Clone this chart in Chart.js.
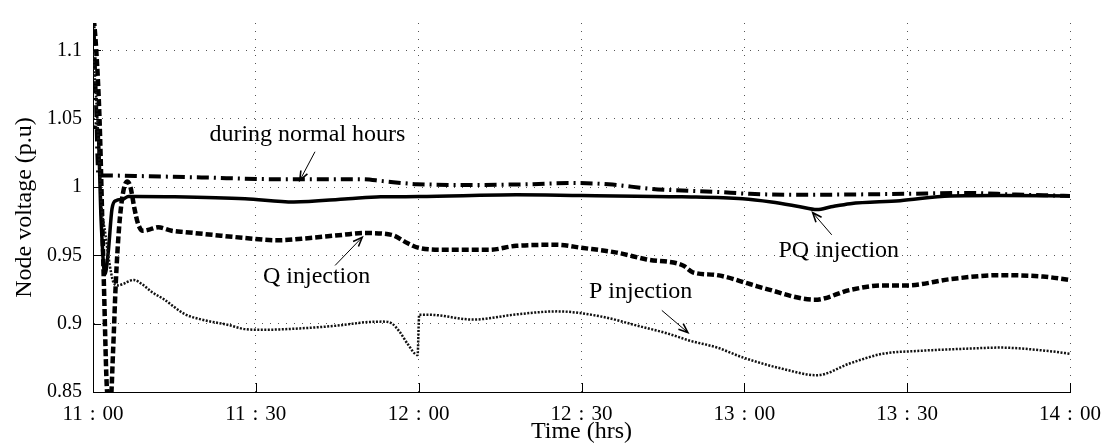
<!DOCTYPE html>
<html>
<head>
<meta charset="utf-8">
<title>Node voltage</title>
<script src="https://cdn.jsdelivr.net/npm/chart.js@4/dist/chart.umd.min.js"></script>
<style>
  html, body { margin: 0; padding: 0; background: #fff; }
  canvas { display: block; }
</style>
</head>
<body>
<canvas id="myChart" width="1105" height="447"></canvas>
<script>
// time is in minutes after 11:00
var normalT = [0, 0.5, 1.0, 1.5, 10, 20, 34, 49.7, 53.4, 59.7, 70, 80, 88, 95, 103, 115, 121, 130, 150, 161, 170, 180];
var normalV = [1.13, 1.07, 1.009, 1.0085, 1.0079, 1.007, 1.0057, 1.0057, 1.0043, 1.0021, 1.0015, 1.002, 1.0029, 1.002, 0.9986, 0.9964, 0.995, 0.9943, 0.995, 0.9957, 0.9945, 0.9935];

var pqT = [0, 0.9, 1.5, 2.2, 2.8, 3.5, 4.2, 5.5, 6.5, 8, 15, 28, 37, 47, 53, 60, 78, 90, 108.5, 119.7, 125, 130, 133.4, 136, 139.5, 148.7, 157.9, 167, 180];
var pqV = [1.044, 1.042, 0.975, 0.936, 0.952, 0.984, 0.990, 0.991, 0.993, 0.993, 0.9928, 0.9914, 0.989, 0.9914, 0.9928, 0.993, 0.9943, 0.9937, 0.9928, 0.9914, 0.989, 0.9858, 0.9835, 0.9855, 0.9878, 0.990, 0.9935, 0.9938, 0.9935];

var qT = [0, 0.6, 1.2, 2.0, 2.6, 3.2, 3.7, 4.2, 4.8, 5.5, 6.3, 6.9, 7.6, 8.3, 9.2, 10.5, 12, 14.5, 17, 22, 28, 34, 40, 46, 50, 55, 57.9, 60, 65, 73, 78, 85.5, 90, 96.5, 102, 108.7, 110.5, 115, 121, 124, 133, 139.5, 145.5, 150, 158, 167, 175, 180];
var qV = [1.13, 1.1, 1.05, 0.93, 0.85, 0.84, 0.88, 0.93, 0.97, 0.995, 1.004, 1.0, 0.985, 0.973, 0.968, 0.969, 0.9705, 0.968, 0.967, 0.965, 0.9627, 0.961, 0.9627, 0.965, 0.9663, 0.965, 0.959, 0.9555, 0.954, 0.954, 0.957, 0.9577, 0.9555, 0.952, 0.947, 0.9426, 0.9376, 0.9355, 0.929, 0.9255, 0.9175, 0.9247, 0.928, 0.928, 0.9326, 0.9355, 0.9345, 0.932];

var pT = [0, 0.8, 1.5, 2.3, 3.0, 3.8, 4.6, 5.5, 7.5, 9, 10.9, 13, 16.9, 20, 25, 28, 31, 40, 46, 50, 53.4, 55, 56.5, 58, 59.8, 60.1, 62, 70, 78, 85.5, 93.4, 100.8, 105.7, 110, 115, 119.7, 127, 133.4, 139.5, 145.5, 151.8, 161, 167, 176, 180];
var pV = [1.1, 1.05, 0.99, 0.965, 0.945, 0.93, 0.928, 0.929, 0.932, 0.929, 0.923, 0.918, 0.907, 0.903, 0.899, 0.896, 0.8955, 0.897, 0.899, 0.901, 0.9015, 0.9003, 0.894, 0.885, 0.877, 0.9065, 0.9065, 0.903, 0.9068, 0.909, 0.9054, 0.898, 0.893, 0.8875, 0.8825, 0.8753, 0.867, 0.8623, 0.871, 0.878, 0.880, 0.8817, 0.8825, 0.880, 0.878];

var xTicks = [0, 30, 60, 90, 120, 150, 180];
var xTickLabels = ["11\u2004:\u200400", "11\u2004:\u200430", "12\u2004:\u200400", "12\u2004:\u200430", "13\u2004:\u200400", "13\u2004:\u200430", "14\u2004:\u200400"];
var yTicks = [0.85, 0.9, 0.95, 1, 1.05, 1.1];
var yTickLabels = ["0.85", "0.9", "0.95", "1", "1.05", "1.1"];

// text callouts: label centre, arrow tail and arrow tip (minutes, p.u.)
var notes = [
  { text: "during normal hours", at: [39.5, 1.038], from: [40.9, 1.0258], to: [38.1, 1.0048] },
  { text: "Q injection", at: [41.2, 0.9345], from: [44.6, 0.9426], to: [49.6, 0.9632] },
  { text: "P injection", at: [100.9, 0.9235], from: [104.8, 0.9097], to: [109.6, 0.8935] },
  { text: "PQ injection", at: [137.4, 0.9535], from: [136.1, 0.965], to: [132.6, 0.9812] }
];

var FONT = '"Liberation Serif", "Times New Roman", serif';

function pts(t, v) {
  return t.map(function (x, i) { return { x: x, y: v[i] }; });
}

var calloutPlugin = {
  id: "callouts",
  afterDatasetsDraw: function (chart) {
    var ctx = chart.ctx, xs = chart.scales.x, ys = chart.scales.y, area = chart.chartArea;
    ctx.save();

    // inward tick marks on both axes
    ctx.strokeStyle = "#000";
    ctx.lineWidth = 1;
    ctx.beginPath();
    xTicks.forEach(function (t) {
      var px = Math.round(xs.getPixelForValue(t)) + 0.5;
      ctx.moveTo(px, area.bottom);
      ctx.lineTo(px, area.bottom - 9);
    });
    yTicks.forEach(function (v) {
      var py = Math.round(ys.getPixelForValue(v)) + 0.5;
      ctx.moveTo(area.left, py);
      ctx.lineTo(area.left + 8, py);
    });
    ctx.stroke();

    ctx.font = "24px " + FONT;
    ctx.fillStyle = "#000";
    ctx.textAlign = "center";
    ctx.textBaseline = "middle";
    notes.forEach(function (n) {
      ctx.fillText(n.text, xs.getPixelForValue(n.at[0]), ys.getPixelForValue(n.at[1]));
      var x1 = xs.getPixelForValue(n.from[0]), y1 = ys.getPixelForValue(n.from[1]);
      var x2 = xs.getPixelForValue(n.to[0]), y2 = ys.getPixelForValue(n.to[1]);
      var a = Math.atan2(y2 - y1, x2 - x1), h = 10, w = 0.38;
      ctx.lineWidth = 1;
      ctx.beginPath();
      ctx.moveTo(x1, y1);
      ctx.lineTo(x2, y2);
      ctx.stroke();
      ctx.lineWidth = 1.6;
      ctx.beginPath();
      ctx.moveTo(x2 - h * Math.cos(a - w), y2 - h * Math.sin(a - w));
      ctx.lineTo(x2, y2);
      ctx.lineTo(x2 - h * Math.cos(a + w), y2 - h * Math.sin(a + w));
      ctx.stroke();
    });
    ctx.restore();
  }
};

var ctx = document.getElementById("myChart").getContext("2d");
var myChart = new Chart(ctx, {
  type: "line",
  data: {
    datasets: [
      {
        label: "P injection",
        data: pts(pT, pV),
        borderColor: "#111",
        borderWidth: 2.5,
        borderDash: [2, 1.5]
      },
      {
        label: "Q injection",
        data: pts(qT, qV),
        borderColor: "#000",
        borderWidth: 4.5,
        borderDash: [7, 3]
      },
      {
        label: "during normal hours",
        data: pts(normalT, normalV),
        borderColor: "#000",
        borderWidth: 4,
        borderDash: [12, 5, 2, 5]
      },
      {
        label: "PQ injection",
        data: pts(pqT, pqV),
        borderColor: "#000",
        borderWidth: 3.5
      }
    ]
  },
  options: {
    responsive: false,
    animation: false,
    devicePixelRatio: 1,
    layout: { padding: { left: 0, right: 35, top: 16, bottom: 0 } },
    elements: {
      point: { radius: 0 },
      line: { cubicInterpolationMode: "monotone", fill: false }
    },
    plugins: {
      legend: { display: false },
      tooltip: { enabled: false }
    },
    scales: {
      x: {
        type: "linear",
        min: 0,
        max: 180,
        afterBuildTicks: function (s) { s.ticks = xTicks.map(function (v) { return { value: v }; }); },
        afterFit: function (s) { s.height = 55; s.paddingLeft = 0; s.paddingRight = 0; },
        ticks: {
          padding: 10,
          color: "#000",
          font: { family: FONT, size: 21 },
          maxRotation: 0,
          callback: function (v) { return xTickLabels[xTicks.indexOf(v)]; }
        },
        grid: { color: "#555", lineWidth: 1, drawTicks: false },
        border: { display: true, color: "#000", width: 1, dash: [1, 7] },
        title: {
          display: true,
          text: "Time (hrs)",
          color: "#000",
          font: { family: FONT, size: 24 },
          padding: { top: 0, bottom: 1 }
        }
      },
      y: {
        type: "linear",
        min: 0.85,
        max: 1.12,
        afterBuildTicks: function (s) { s.ticks = yTicks.map(function (v) { return { value: v }; }); },
        afterFit: function (s) { s.width = 93; },
        ticks: {
          padding: 11,
          color: "#000",
          font: { family: FONT, size: 20 },
          callback: function (v) { return yTickLabels[yTicks.indexOf(v)]; }
        },
        grid: { color: "#555", lineWidth: 1, drawTicks: false },
        border: { display: true, color: "#000", width: 1, dash: [1, 7] },
        title: {
          display: true,
          text: "Node voltage (p.u)",
          color: "#000",
          font: { family: FONT, size: 24 },
          padding: { top: 10, bottom: 0 }
        }
      }
    }
  },
  plugins: [calloutPlugin]
});
</script>
</body>
</html>
